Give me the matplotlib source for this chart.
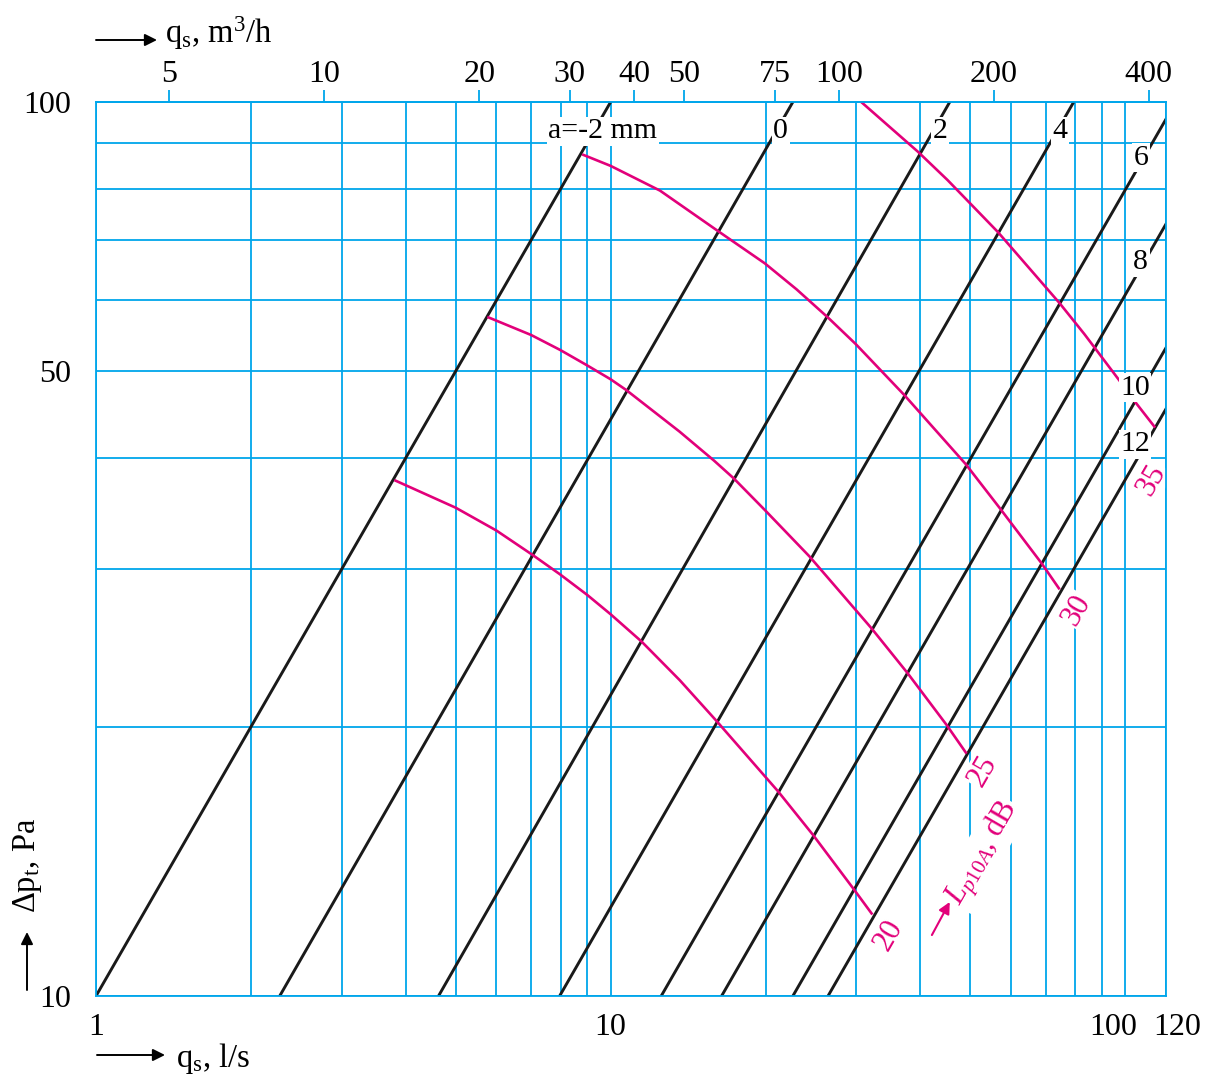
import matplotlib.pyplot as plt
from matplotlib.ticker import FixedLocator, NullLocator, NullFormatter
from matplotlib.transforms import ScaledTranslation

plt.rcParams['font.family'] = ['Liberation Serif', 'DejaVu Serif']
plt.rcParams['mathtext.fontset'] = 'custom'
plt.rcParams['mathtext.rm'] = 'Liberation Serif'
plt.rcParams['mathtext.it'] = 'Liberation Serif:italic'
plt.rcParams['mathtext.bf'] = 'Liberation Serif:bold'

BLUE = '#00a6eb'
PINK = '#e2007a'
BLACK = '#1a1a1a'

# grid / ticks, flow in l/s and pressure in Pa
x_major = [1, 10, 100, 120]
x_minor = [2, 3, 4, 5, 6, 7, 8, 9, 20, 30, 40, 50, 60, 70, 80, 90]
y_major = [10, 50, 100]
y_minor = [20, 30, 40, 60, 70, 80, 90]
m3h_ticks = [5, 10, 20, 30, 40, 50, 75, 100, 200, 400]

# damper settings a: flow at 10 Pa and at 100 Pa
a_names = ['a=-2 mm', '0', '2', '4', '6', '8', '10', '12']
q_10pa = [1.0, 2.275, 4.63, 7.96, 12.54, 16.43, 22.6, 26.45]
q_100pa = [10.0, 22.6, 45.6, 79.4, 125.4, 164.3, 226.0, 264.5]
a_label_q = [9.66, 21.4, 43.6, 74.6, 107.2, 107.2, 104.4, 104.4]
a_label_dp = [92.8, 92.8, 92.8, 92.8, 86.6, 66.2, 47.9, 41.4]

# sound level curves Lp10A
lp20_q = [3.82, 5.0, 6.0, 7.06, 7.97, 9.01, 10.0, 11.49, 13.63, 16.07,
          21.17, 24.76, 29.7, 32.14]
lp20_dp = [37.71, 35.17, 33.16, 31.13, 29.63, 28.09, 26.73, 24.91, 22.55, 20.3,
           16.93, 15.13, 13.16, 12.37]
lp25_q = [5.79, 7.01, 7.98, 8.99, 10.0, 10.72, 13.61, 15.88, 17.34, 19.93,
          24.36, 32.13, 37.78, 44.96, 49.0]
lp25_dp = [57.42, 54.87, 52.8, 50.77, 48.96, 47.63, 42.79, 39.71, 37.94, 34.97,
           31.01, 25.78, 22.96, 20.1, 18.72]
lp30_q = [8.85, 10.0, 12.47, 16.23, 19.94, 22.98, 26.47, 29.97, 37.2, 48.94,
          57.07, 68.77, 74.3]
lp30_dp = [87.27, 84.83, 79.6, 71.61, 65.99, 61.72, 57.37, 53.58, 47.02, 39.37,
           35.12, 30.48, 28.58]
lp35_q = [30.64, 39.54, 45.17, 56.56, 74.57, 83.31, 97.22, 104.8, 113.9]
lp35_dp = [100.08, 87.99, 81.77, 71.54, 59.55, 54.99, 48.88, 46.1, 43.35]

lp_names = ['20', '25', '30', '35']
lp_label_q = [34.7, 52.9, 80.5, 112.6]
lp_label_dp = [11.7, 17.85, 27.0, 37.8]

fig = plt.figure(figsize=(12.18, 10.8), dpi=100)
ax = fig.add_axes([96 / 1218, 84 / 1080, 1070 / 1218, 894 / 1080])
ax.set_xscale('log')
ax.set_yscale('log')
ax.set_xlim(1, 120)
ax.set_ylim(10, 100)

ax.set_xticks(x_major, labels=[str(v) for v in x_major])
ax.xaxis.set_minor_locator(FixedLocator(x_minor))
ax.xaxis.set_minor_formatter(NullFormatter())
ax.set_yticks(y_major, labels=[str(v) for v in y_major])
ax.yaxis.set_minor_locator(FixedLocator(y_minor))
ax.yaxis.set_minor_formatter(NullFormatter())

ax.grid(True, which='both', color=BLUE, lw=1.3)
ax.set_axisbelow(True)
ax.tick_params(which='both', length=0)
ax.tick_params(axis='x', pad=12, labelsize=23)
ax.tick_params(axis='y', pad=18, labelsize=23)
for s in ax.spines.values():
    s.set_color(BLUE)
    s.set_linewidth(1.3)
    s.set_zorder(6)

# push "100" and "120" apart like the original
xt = ax.xaxis.get_major_ticks()
xt[2].label1.set_transform(xt[2].label1.get_transform()
                           + ScaledTranslation(-0.12, 0, fig.dpi_scale_trans))
xt[3].label1.set_transform(xt[3].label1.get_transform()
                           + ScaledTranslation(0.11, 0, fig.dpi_scale_trans))

sec = ax.secondary_xaxis('top', functions=(lambda q: q * 3.6, lambda m: m / 3.6))
sec.set_xticks(m3h_ticks, labels=[str(v) for v in m3h_ticks])
sec.xaxis.set_minor_locator(NullLocator())
sec.tick_params(axis='x', direction='out', length=8.6, width=1.3,
                color=BLUE, labelsize=23, pad=1)
sec.spines['top'].set_color(BLUE)
sec.spines['top'].set_linewidth(1.3)

for q0, q1 in zip(q_10pa, q_100pa):
    ax.plot([q0, q1], [10, 100], color=BLACK, lw=2.1, zorder=3)

for q, dp in [(lp20_q, lp20_dp), (lp25_q, lp25_dp), (lp30_q, lp30_dp), (lp35_q, lp35_dp)]:
    ax.plot(q, dp, color=PINK, lw=1.9, zorder=3.5, solid_joinstyle='round')

box = dict(fc='white', ec='none', pad=1)
for name, q, dp in zip(a_names, a_label_q, a_label_dp):
    ax.text(q, dp, name, fontsize=21.5, ha='center', va='center',
            bbox=box, zorder=5)

for name, q, dp in zip(lp_names, lp_label_q, lp_label_dp):
    ax.text(q, dp, name, fontsize=22, color=PINK, rotation=60,
            rotation_mode='anchor', ha='center', va='center',
            bbox=box, zorder=5)

ax.text(52.9, 14.45, r'$L_{p10A}$, dB', fontsize=22, color=PINK, rotation=60,
        rotation_mode='anchor', ha='center', va='center', bbox=box, zorder=5)
ax.annotate('', xy=(45.6, 12.74), xytext=(42.1, 11.70),
            arrowprops=dict(arrowstyle='-|>', color=PINK, lw=1.5,
                            mutation_scale=17, shrinkA=0, shrinkB=0),
            zorder=5)

# axis titles with arrows
arrow = dict(arrowstyle='-|>', color='black', lw=1.4, mutation_scale=18,
             shrinkA=0, shrinkB=0)
ax.annotate('', xy=(157, 1040), xytext=(96, 1040), xycoords='figure pixels',
            arrowprops=arrow, annotation_clip=False)
ax.annotate('', xy=(165, 25), xytext=(97, 25), xycoords='figure pixels',
            arrowprops=arrow, annotation_clip=False)
ax.annotate('', xy=(27, 148), xytext=(27, 90), xycoords='figure pixels',
            arrowprops=arrow, annotation_clip=False)
fig.text(165 / 1218, 1037 / 1080, r'q$_\mathrm{s}$, m$^3$/h', fontsize=23.5,
         ha='left', va='baseline')
fig.text(176 / 1218, 13 / 1080, r'q$_\mathrm{s}$, l/s', fontsize=23.5,
         ha='left', va='baseline')
fig.text(28 / 1218, 215 / 1080, r'Δp$_\mathrm{t}$, Pa', fontsize=23.5,
         rotation=90, ha='center', va='center')

fig.savefig('out.png', dpi=100)
